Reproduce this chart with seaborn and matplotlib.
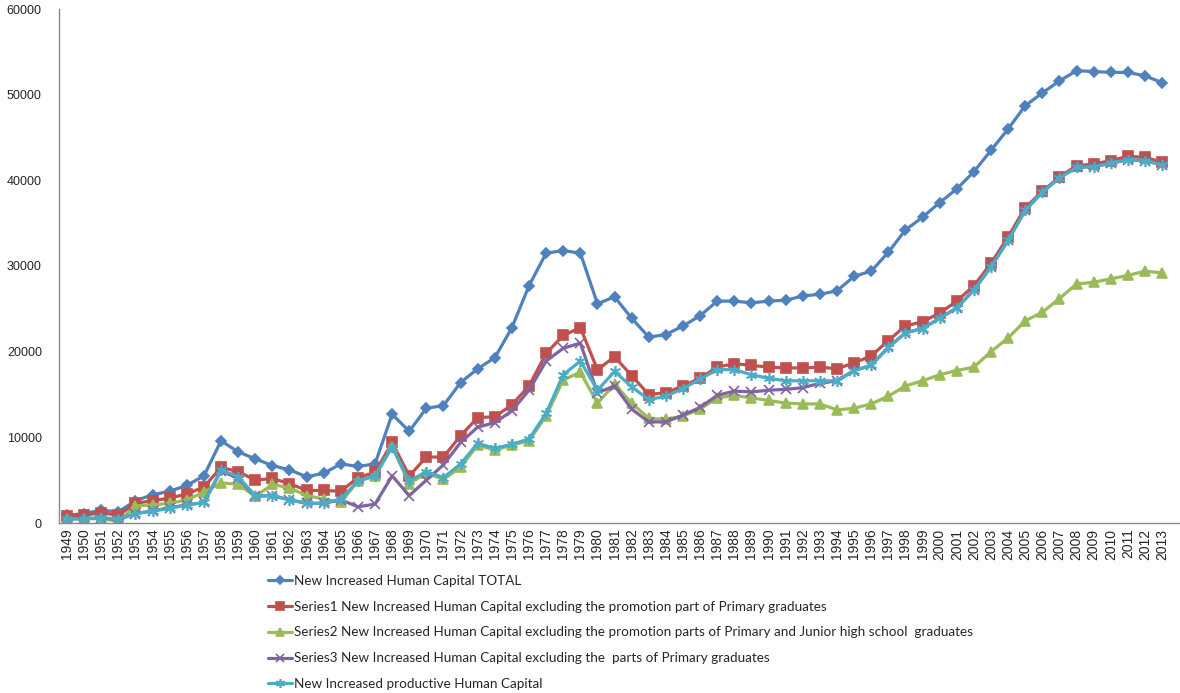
import matplotlib
matplotlib.use("Agg")
import matplotlib.pyplot as plt
import seaborn as sns
import pandas as pd

years = list(range(1949, 2014))

total = [900, 1100, 1500, 1300, 2600, 3300, 3700, 4400, 5500, 9600,
         8300, 7500, 6700, 6200, 5400, 5800, 6900, 6600, 6900, 12700,
         10700, 13400, 13700, 16400, 18000, 19300, 22800, 27700, 31500, 31800,
         31500, 25600, 26400, 23900, 21700, 22000, 23000, 24200, 25900, 25900,
         25700, 25900, 26000, 26500, 26700, 27100, 28800, 29400, 31600, 34200,
         35700, 37400, 39000, 41000, 43500, 46000, 48700, 50200, 51600, 52800,
         52700, 52600, 52600, 52200, 51400]

series1 = [800, 900, 1200, 900, 2300, 2600, 2900, 3400, 4200, 6500,
           6000, 5000, 5200, 4600, 3800, 3800, 3700, 5300, 5900, 9400,
           5500, 7700, 7700, 10200, 12300, 12400, 13800, 16000, 19800, 21900,
           22800, 17900, 19400, 17200, 15000, 15200, 16000, 16900, 18200, 18600,
           18400, 18200, 18100, 18100, 18200, 18000, 18700, 19500, 21300, 23000,
           23500, 24500, 25900, 27700, 30300, 33400, 36800, 38700, 40400, 41700,
           41900, 42300, 42800, 42700, 42100]

series2 = [500, 500, 500, 200, 2000, 2100, 2300, 2700, 3600, 4700,
           4500, 3100, 4500, 4100, 3200, 2800, 2400, 4900, 5500, 8900,
           4600, 5800, 5100, 6500, 9100, 8500, 9100, 9600, 12500, 16700,
           17600, 14000, 16200, 14000, 12200, 12100, 12500, 13300, 14600, 14900,
           14600, 14300, 14000, 13900, 13900, 13200, 13400, 13900, 14800, 16000,
           16600, 17300, 17800, 18200, 20000, 21600, 23600, 24600, 26200, 27900,
           28100, 28500, 28900, 29400, 29200]

series3 = [500, 500, 600, 400, 1100, 1400, 1800, 2100, 2400, 6100,
           5200, 3100, 3200, 2700, 2300, 2300, 2700, 1900, 2200, 5500,
           3200, 5000, 6800, 9400, 11200, 11700, 13100, 15500, 18900, 20400,
           21000, 15200, 16000, 13300, 11800, 11800, 12600, 13500, 14900, 15400,
           15300, 15500, 15600, 15800, 16300, 16600, 17800, 18400, 20500, 22200,
           22700, 23900, 25100, 27200, 29900, 33000, 36500, 38600, 40300, 41500,
           41600, 42000, 42400, 42300, 41800]

productive = [500, 500, 600, 500, 1100, 1400, 1700, 2100, 2400, 6200,
              5400, 3200, 3200, 2700, 2300, 2300, 2800, 4900, 5500, 8900,
              4900, 6000, 5300, 6900, 9300, 8700, 9200, 9800, 12800, 17300,
              18900, 15500, 17700, 15900, 14400, 14800, 15700, 16800, 17900, 17900,
              17300, 16900, 16600, 16600, 16600, 16600, 17800, 18400, 20500, 22200,
              22700, 23900, 25100, 27200, 29900, 33000, 36500, 38600, 40300, 41500,
              41600, 42000, 42400, 42300, 41800]

labels = [
    "New Increased Human Capital TOTAL",
    "Series1 New Increased Human Capital excluding the promotion part of Primary graduates",
    "Series2 New Increased Human Capital excluding the promotion parts of Primary and Junior high school  graduates",
    "Series3 New Increased Human Capital excluding the  parts of Primary graduates",
    "New Increased productive Human Capital",
]
colors = ["#4F81BD", "#C0504D", "#9BBB59", "#8064A2", "#4BACC6"]
markers = ["D", "s", "^", "x", (6, 2, 0)]
msizes = [5.5, 7.5, 7.5, 7, 8]

sns.set_style("white")
plt.rcParams["font.family"] = ["Liberation Sans", "DejaVu Sans"]

fig = plt.figure(figsize=(11.8, 6.93), dpi=100)
left_px, right_px = 58.5, 1180
ax = fig.add_axes([left_px / 1180, 1 - 523 / 693, (right_px - left_px) / 1180, 514 / 693])

all_series = [total, series1, series2, series3, productive]
for vals, lab, col, mk, ms in zip(all_series, labels, colors, markers, msizes):
    df = pd.DataFrame({"year": years, "value": vals})
    sns.lineplot(data=df, x="year", y="value", ax=ax, color=col, linewidth=2.3,
                 marker=mk, markersize=ms, markeredgecolor=col, markerfacecolor=col,
                 markeredgewidth=1.2, label=lab, legend=False)

px_per_year = 17.11
ax.set_xlim(1948.5, 1948.5 + (right_px - left_px) / px_per_year)
ax.set_ylim(0, 60000)
ax.set_yticks(range(0, 60001, 10000))
ax.set_xticks(years)
ax.set_xticklabels([str(y) for y in years], rotation=90, fontsize=10)
ax.tick_params(axis="y", labelsize=9, length=0, pad=12)
ax.tick_params(axis="x", length=0, pad=4)
ax.set_xlabel("")
ax.set_ylabel("")
for s in ["top", "right"]:
    ax.spines[s].set_visible(False)
for s in ["left", "bottom"]:
    ax.spines[s].set_color("#878787")
    ax.spines[s].set_linewidth(1.0)

handles, labs = ax.get_legend_handles_labels()
fig.legend(handles, labs, loc="upper left", bbox_to_anchor=(268 / 1180, 1 - 575 / 693),
           frameon=False, prop={"family": "Lato", "size": 9.7}, handlelength=1.75,
           handletextpad=0.15, labelspacing=1.02, borderaxespad=0, borderpad=0,
           markerscale=0.8)

fig.savefig("out.png", dpi=100)
